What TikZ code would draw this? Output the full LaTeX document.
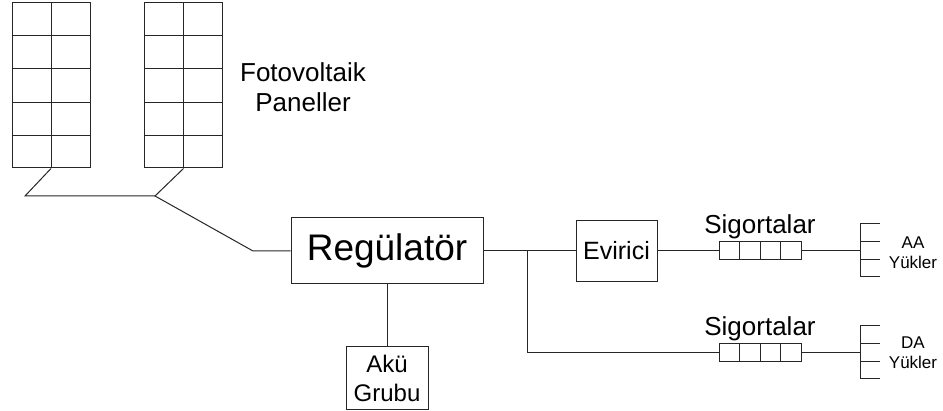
\documentclass[tikz,border=0pt]{standalone}
\usepackage{fontspec}
\setmainfont{Liberation Sans}
\usepackage{tikz}
\usetikzlibrary{positioning,calc}

\begin{document}
\begin{tikzpicture}[x=1pt, y=-1pt, line width=1pt, draw=black!85,
block/.style={rectangle, draw, inner sep=2pt, align=center},
panel/.style={rectangle, draw, minimum width=78pt, minimum height=165pt},
fuse/.style={rectangle, draw, minimum width=82pt, minimum height=18pt},
lbl/.style={align=center, inner sep=2pt},
line/.style={draw}]

\useasboundingbox (0,0) rectangle (943,411);

% Panels
\node[panel] (pvA) at (51,85.5) {};
\node[panel] (pvB) at (183.5,85.5) {};
\draw (pvA.north) -- (pvA.south)
  ($(pvA.north west)!0.2!(pvA.south west)$) -- ($(pvA.north east)!0.2!(pvA.south east)$)
  ($(pvA.north west)!0.4!(pvA.south west)$) -- ($(pvA.north east)!0.4!(pvA.south east)$)
  ($(pvA.north west)!0.6!(pvA.south west)$) -- ($(pvA.north east)!0.6!(pvA.south east)$)
  ($(pvA.north west)!0.8!(pvA.south west)$) -- ($(pvA.north east)!0.8!(pvA.south east)$);
\draw (pvB.north) -- (pvB.south)
  ($(pvB.north west)!0.2!(pvB.south west)$) -- ($(pvB.north east)!0.2!(pvB.south east)$)
  ($(pvB.north west)!0.4!(pvB.south west)$) -- ($(pvB.north east)!0.4!(pvB.south east)$)
  ($(pvB.north west)!0.6!(pvB.south west)$) -- ($(pvB.north east)!0.6!(pvB.south east)$)
  ($(pvB.north west)!0.8!(pvB.south west)$) -- ($(pvB.north east)!0.8!(pvB.south east)$);
\node[lbl, font=\fontsize{26}{30}\selectfont] (pvlabel) at (303,87) {Fotovoltaik\\Paneller};

% Nodes
\node[block, minimum width=192pt, minimum height=66pt, font=\fontsize{37}{40}\selectfont] (reg) at (387,251) {Regülatör};
\node[block, below=62pt of reg, minimum width=82pt, minimum height=63pt, font=\fontsize{24}{29}\selectfont] (aku) {Akü\\Grubu};
\node[block, right=92pt of reg, minimum width=81pt, minimum height=61pt, font=\fontsize{25}{29}\selectfont] (evirici) {Evirici};

\node[fuse, right=61pt of evirici] (fuseAC) {};
\node[fuse, below=83pt of fuseAC] (fuseDC) {};
\draw ($(fuseAC.north west)!0.25!(fuseAC.north east)$) -- ($(fuseAC.south west)!0.25!(fuseAC.south east)$)
  ($(fuseAC.north west)!0.5!(fuseAC.north east)$) -- ($(fuseAC.south west)!0.5!(fuseAC.south east)$)
  ($(fuseAC.north west)!0.75!(fuseAC.north east)$) -- ($(fuseAC.south west)!0.75!(fuseAC.south east)$);
\draw ($(fuseDC.north west)!0.25!(fuseDC.north east)$) -- ($(fuseDC.south west)!0.25!(fuseDC.south east)$)
  ($(fuseDC.north west)!0.5!(fuseDC.north east)$) -- ($(fuseDC.south west)!0.5!(fuseDC.south east)$)
  ($(fuseDC.north west)!0.75!(fuseDC.north east)$) -- ($(fuseDC.south west)!0.75!(fuseDC.south east)$);
\node[lbl, above=0pt of fuseAC, font=\fontsize{26}{30}\selectfont] (sigAC) {Sigortalar};
\node[lbl, above=0pt of fuseDC, font=\fontsize{26}{30}\selectfont] (sigDC) {Sigortalar};

% Loads
\coordinate (ldAC) at (fuseAC.east -| 860,0);
\coordinate (ldDC) at (fuseDC.east -| 860,0);
\draw ($(ldAC)+(20,-27)$) -- ++(-20,0) -- ++(0,53) -- ++(20,0)
  ($(ldAC)+(0,-9)$) -- ++(20,0) ($(ldAC)+(0,9)$) -- ++(20,0);
\draw ($(ldDC)+(20,-27)$) -- ++(-20,0) -- ++(0,53) -- ++(20,0)
  ($(ldDC)+(0,-9)$) -- ++(20,0) ($(ldDC)+(0,9)$) -- ++(20,0);
\node[lbl, font=\fontsize{17}{20}\selectfont] (loadAC) at (913,253) {AA\\Yükler};
\node[lbl, font=\fontsize{17}{20}\selectfont] (loadDC) at (913,353) {DA\\Yükler};

% Paths
\coordinate (jL) at (25,196);
\coordinate (jM) at (155,196);
\coordinate (jR) at (253,251);
\coordinate (jS) at (527,251);
\path[line] (pvA.south) -- (jL) -- (jM);
\path[line] (pvB.south) -- (jM) -- (jR) -- (reg.west);
\path[line] (reg.south) -- (aku.north);
\path[line] (reg.east) -- (evirici.west);
\path[line] (evirici.east) -- (fuseAC.west);
\path[line] (fuseAC.east) -- (ldAC);
\path[line] (jS) |- (fuseDC.west);
\path[line] (fuseDC.east) -- (ldDC);
\end{tikzpicture}
\end{document}
